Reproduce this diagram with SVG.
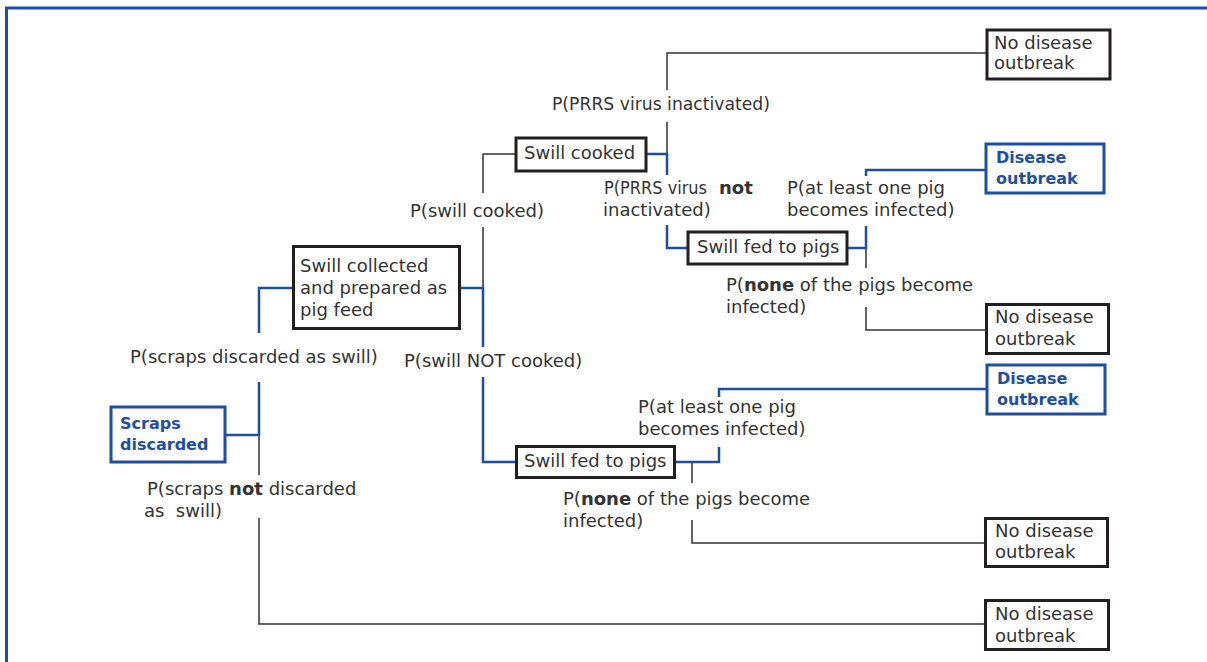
<svg xmlns="http://www.w3.org/2000/svg" width="1207" height="662" viewBox="0 0 1207 662">
  <style>
    text { font-family: "DejaVu Sans", "Liberation Sans", sans-serif; font-size: 18px; fill: #333; white-space: pre; }
    .b { font-weight: bold; }
    .blue { fill: #1f4fa0; font-weight: bold; font-size: 16px; }
    .box { fill: #fff; stroke: #231f20; stroke-width: 3; }
    .bbox { fill: #fff; stroke: #1f4fa0; stroke-width: 3; }
    .k { fill: none; stroke: #333; stroke-width: 1.5; }
    .u { fill: none; stroke: #1f4fa0; stroke-width: 2.5; }
  </style>

  <rect width="1207" height="662" fill="#fff"/>
  <!-- frame -->
  <path d="M6.5,662 V8 H1207" fill="none" stroke="#1f4fa0" stroke-width="3"/>

  <!-- connectors -->
  <g id="connectors">
    <path class="k" d="M483,154 H516 M483,154 V193 M483,227 V288"/>
    <path class="k" d="M667,122 V154 M667,90 V53 H987"/>
    <path class="k" d="M866,248 V268 M866,307 V330 H986"/>
    <path class="k" d="M692,462 V483 M692,520 V543 H985"/>
    <path class="k" d="M259,435 V475 M259,518 V624 H985"/>
    <path class="u" d="M293,288 H259 V333 M259,382 V435 H226"/>
    <path class="u" d="M461,288 H483 V347 M483,377 V462 H516"/>
    <path class="u" d="M646,154 H667 V175 M667,225 V248 H688"/>
    <path class="u" d="M847,248 H866 V226 M866,176 V170 H986"/>
    <path class="u" d="M675,462 H719 V447 M719,397 V389 H987"/>
  </g>

  <!-- branch probabilities -->
  <g id="labels">
    <text x="552" y="110" textLength="218" lengthAdjust="spacingAndGlyphs">P(PRRS virus inactivated)</text>
    <text x="604" y="194" textLength="103" lengthAdjust="spacingAndGlyphs">P(PRRS virus</text>
    <text class="b" x="719" y="194">not</text>
    <text x="603" y="216">inactivated)</text>
    <text x="410" y="217">P(swill cooked)</text>
    <text x="787" y="194">P(at least one pig</text>
    <text x="787" y="216">becomes infected)</text>
    <text x="726" y="291">P(<tspan class="b">none</tspan> of the pigs become</text>
    <text x="726" y="313">infected)</text>
    <text x="130" y="363">P(scraps discarded as swill)</text>
    <text x="404" y="367">P(swill NOT cooked)</text>
    <text x="638" y="413">P(at least one pig</text>
    <text x="638" y="435">becomes infected)</text>
    <text x="147" y="495">P(scraps <tspan class="b">not</tspan> discarded</text>
    <text x="144" y="517">as  swill)</text>
    <text x="563" y="505">P(<tspan class="b">none</tspan> of the pigs become</text>
    <text x="563" y="527">infected)</text>
  </g>

  <!-- nodes -->
  <g id="scraps-discarded">
    <rect class="bbox" x="111" y="407" width="114" height="55"/>
    <text class="blue" x="120" y="429">Scraps</text>
    <text class="blue" x="120" y="450">discarded</text>
  </g>
  <g id="swill-collected">
    <rect class="box" x="293.5" y="246.5" width="166" height="82"/>
    <text x="300" y="272">Swill collected</text>
    <text x="300" y="294">and prepared as</text>
    <text x="300" y="316">pig feed</text>
  </g>
  <g id="swill-cooked">
    <rect class="box" x="516" y="138" width="130" height="33"/>
    <text x="524" y="159">Swill cooked</text>
  </g>
  <g id="fed-cooked">
    <rect class="box" x="688" y="232" width="159" height="32"/>
    <text x="697" y="253">Swill fed to pigs</text>
  </g>
  <g id="fed-raw">
    <rect class="box" x="516.5" y="446.5" width="158" height="31"/>
    <text x="524" y="467">Swill fed to pigs</text>
  </g>
  <g id="no-outbreak-1">
    <rect class="box" x="987" y="30" width="123" height="49"/>
    <text x="994" y="49">No disease</text>
    <text x="994" y="69">outbreak</text>
  </g>
  <g id="outbreak-1">
    <rect class="bbox" x="986" y="144" width="118" height="49"/>
    <text class="blue" x="996" y="163">Disease</text>
    <text class="blue" x="996" y="184">outbreak</text>
  </g>
  <g id="no-outbreak-2">
    <rect class="box" x="986.5" y="304.5" width="122" height="49"/>
    <text x="995" y="323">No disease</text>
    <text x="995" y="345">outbreak</text>
  </g>
  <g id="outbreak-2">
    <rect class="bbox" x="987" y="365" width="118" height="49"/>
    <text class="blue" x="997" y="384">Disease</text>
    <text class="blue" x="997" y="405">outbreak</text>
  </g>
  <g id="no-outbreak-3">
    <rect class="box" x="985.5" y="518.5" width="122" height="48"/>
    <text x="995" y="537">No disease</text>
    <text x="995" y="558">outbreak</text>
  </g>
  <g id="no-outbreak-4">
    <rect class="box" x="985.5" y="600.5" width="123" height="49"/>
    <text x="995" y="620">No disease</text>
    <text x="995" y="642">outbreak</text>
  </g>
</svg>
